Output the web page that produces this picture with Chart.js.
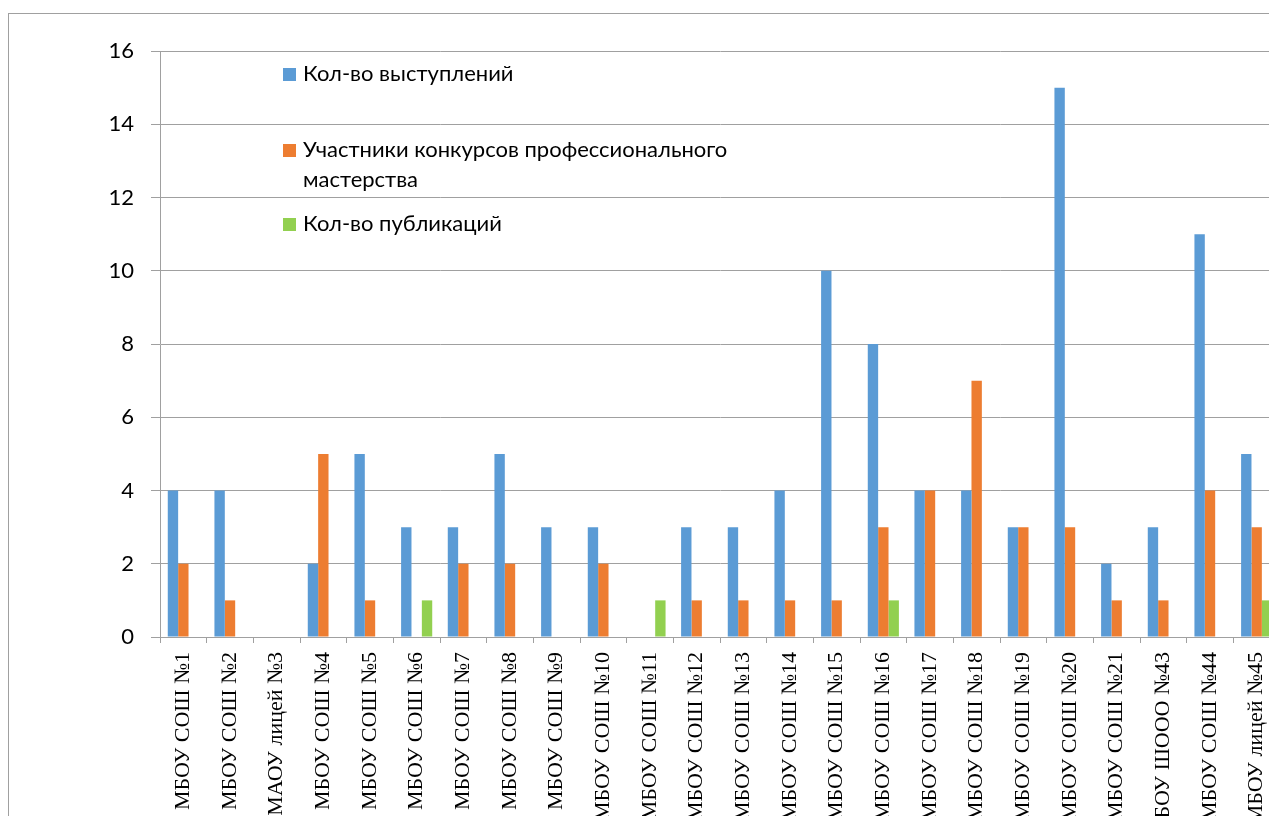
<!DOCTYPE html>
<html lang="ru">
<head>
<meta charset="utf-8">
<title>Выступления, конкурсы и публикации</title>
<script src="https://cdn.jsdelivr.net/npm/chart.js@4.4.1/dist/chart.umd.min.js"></script>
<style>
  html, body { margin: 0; padding: 0; background: #fff; overflow: hidden; }
  body { width: 1269px; height: 816px; position: relative; }
  #frame { position: absolute; left: 8px; top: 13px; width: 1400px; height: 1000px; border: 1px solid #a0a0a0; box-sizing: border-box; }
  #speedChart { position: absolute; left: 0; top: 0; }
  #legend { position: absolute; left: 0; top: 0; font-family: Lato, "Open Sans", sans-serif; font-size: 22px; color: #000; }
  #legend .item { position: absolute; left: 283px; width: 470px; line-height: 30px; }
  #legend .box { position: absolute; left: 0; top: 10px; width: 13px; height: 13px; }
  #legend .text { margin-left: 20px; }
</style>
</head>
<body>
<div id="frame"></div>
<canvas id="speedChart" width="1300" height="1000"></canvas>
<div id="legend"></div>
<script>
// schools along the x axis
var categories = [
  "МБОУ СОШ №1", "МБОУ СОШ №2", "МАОУ лицей №3", "МБОУ СОШ №4", "МБОУ СОШ №5",
  "МБОУ СОШ №6", "МБОУ СОШ №7", "МБОУ СОШ №8", "МБОУ СОШ №9", "МБОУ СОШ №10",
  "МБОУ СОШ №11", "МБОУ СОШ №12", "МБОУ СОШ №13", "МБОУ СОШ №14", "МБОУ СОШ №15",
  "МБОУ СОШ №16", "МБОУ СОШ №17", "МБОУ СОШ №18", "МБОУ СОШ №19", "МБОУ СОШ №20",
  "МБОУ СОШ №21", "МБОУ ШООО №43", "МБОУ СОШ №44", "МБОУ лицей №45"
];
var speeches = [4, 4, 0, 2, 5, 3, 3, 5, 3, 3, 0, 3, 3, 4, 10, 8, 4, 4, 3, 15, 2, 3, 11, 5];
var contestants = [2, 1, 0, 5, 1, 0, 2, 2, 0, 2, 0, 1, 1, 1, 1, 3, 4, 7, 3, 3, 1, 1, 4, 3];
var publications = [0, 0, 0, 0, 0, 1, 0, 0, 0, 0, 1, 0, 0, 0, 0, 1, 0, 0, 0, 0, 0, 0, 0, 1];
var seriesNames = [
  "Кол-во выступлений",
  "Участники конкурсов профессионального мастерства",
  "Кол-во публикаций"
];
var yMin = 0;
var yMax = 16;
var yStep = 2;

var gridColor = "#a0a0a0";
var legendTops = [58, 134, 208];

function buildLegend(chart) {
  var legend = document.getElementById("legend");
  legend.innerHTML = "";
  chart.data.datasets.forEach(function (ds, i) {
    var item = document.createElement("div");
    item.className = "item";
    item.style.top = legendTops[i] + "px";
    var box = document.createElement("span");
    box.className = "box";
    box.style.background = ds.backgroundColor;
    var text = document.createElement("div");
    text.className = "text";
    text.textContent = ds.label;
    item.appendChild(box);
    item.appendChild(text);
    legend.appendChild(item);
  });
}

var ctx = document.getElementById("speedChart").getContext("2d");
var chart = new Chart(ctx, {
  type: "bar",
  data: {
    labels: categories,
    datasets: [
      { label: seriesNames[0], data: speeches, backgroundColor: "#5b9bd5" },
      { label: seriesNames[1], data: contestants, backgroundColor: "#ed7d31" },
      { label: seriesNames[2], data: publications, backgroundColor: "#92d050" },
    ],
  },
  options: {
    responsive: false,
    animation: false,
    layout: {
      padding: { top: 51, right: 20, left: 0, bottom: 0 },
    },
    datasets: {
      bar: {
        categoryPercentage: 0.667,
        barPercentage: 1.0,
      },
    },
    plugins: {
      legend: { display: false },
      tooltip: { enabled: false },
    },
    scales: {
      x: {
        afterFit: function (axis) {
          axis.height = 363;
        },
        grid: {
          offset: true,
          drawOnChartArea: false,
          color: gridColor,
          tickLength: 6,
        },
        border: { color: gridColor },
        ticks: {
          autoSkip: false,
          minRotation: 90,
          maxRotation: 90,
          padding: 9,
          color: "#000",
          font: { family: "'Liberation Serif', 'Times New Roman', serif", size: 22 },
        },
      },
      y: {
        min: yMin,
        max: yMax,
        afterFit: function (axis) {
          axis.width = 160;
        },
        grid: {
          color: gridColor,
          tickLength: 9,
        },
        border: { color: gridColor },
        ticks: {
          stepSize: yStep,
          padding: 17,
          color: "#000",
          font: { family: "Lato, 'Open Sans', sans-serif", size: 22 },
        },
      },
    },
  },
});

buildLegend(chart);
</script>
</body>
</html>
